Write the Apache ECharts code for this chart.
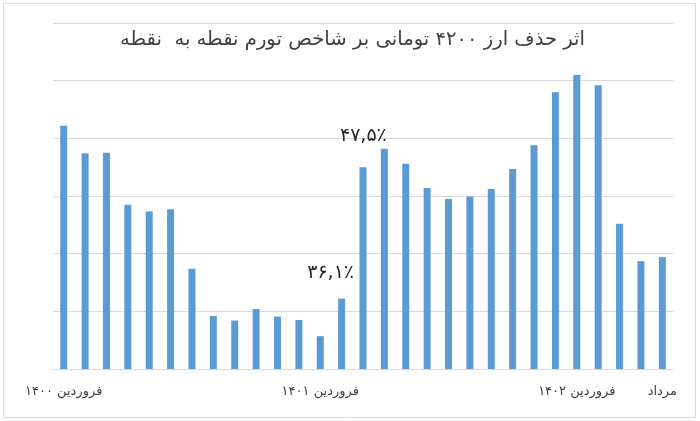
<!DOCTYPE html>
<html>
<head>
<meta charset="utf-8">
<script src="https://cdn.jsdelivr.net/npm/echarts@6/dist/echarts.min.js"></script>
<style>html,body{margin:0;padding:0;background:#fff}#c{width:700px;height:421px}</style>
</head>
<body>
<div id="c"></div>
<script>
const titleText = 'اثر حذف ارز ۴۲۰۰ تومانی بر شاخص تورم نقطه به  نقطه';
const monthLabels = ['فروردین ۱۴۰۰','','','','','','','','','','','','فروردین ۱۴۰۱','','','','','','','','','','','','فروردین ۱۴۰۲','','','','مرداد'];
const values = [42.2,37.4,37.5,28.5,27.3,27.7,17.4,9.2,8.4,10.4,9.1,8.5,5.7,12.2,35.0,38.2,35.6,31.4,29.5,29.9,31.2,34.7,38.8,48.0,51.0,49.2,25.2,18.7,19.4];
const annotationIndex = [13, 15];
const annotationText = ['۳۶,۱٪', '۴۷,۵٪'];
const yTicks = [0,10,20,30,40,50,60];

const chart = echarts.init(document.getElementById('c'));
const seriesData = values.map((v, i) => {
  const k = annotationIndex.indexOf(i);
  if (k < 0) return v;
  return {
    value: v,
    label: {
      show: true, position: 'top', formatter: annotationText[k],
      fontSize: 19, color: '#262626', fontFamily: 'DejaVu Sans',
      offset: k === 0 ? [-11, -11] : [-21, 2], distance: 5
    }
  };
});
chart.setOption({
  animation: false,
  graphic: [
    { type: 'rect', shape: { x: 3.5, y: 3.5, width: 692, height: 414 }, style: { fill: 'none', stroke: '#d9d9d9', lineWidth: 1 }, z: -1 },
    { type: 'text', left: 120, top: 30, style: { text: titleText, font: '19.6px "DejaVu Sans"', fill: '#404040' } }
  ],
  grid: { left: 53, right: 27, top: 23, bottom: 52 },
  xAxis: {
    type: 'category', data: monthLabels,
    axisLine: { lineStyle: { color: '#d9d9d9', width: 1 } },
    axisTick: { show: false },
    axisLabel: { interval: 0, color: '#404040', fontSize: 13, margin: 16, fontFamily: 'DejaVu Sans' }
  },
  yAxis: {
    type: 'value', min: yTicks[0], max: yTicks[yTicks.length - 1], interval: 10,
    axisLabel: { show: false }, axisLine: { show: false }, axisTick: { show: false },
    splitLine: { lineStyle: { color: '#d9d9d9', width: 1 } }
  },
  series: [{
    type: 'bar', data: seriesData, barWidth: 7,
    itemStyle: { color: '#5b9bd5' }
  }]
});
</script>
</body>
</html>
